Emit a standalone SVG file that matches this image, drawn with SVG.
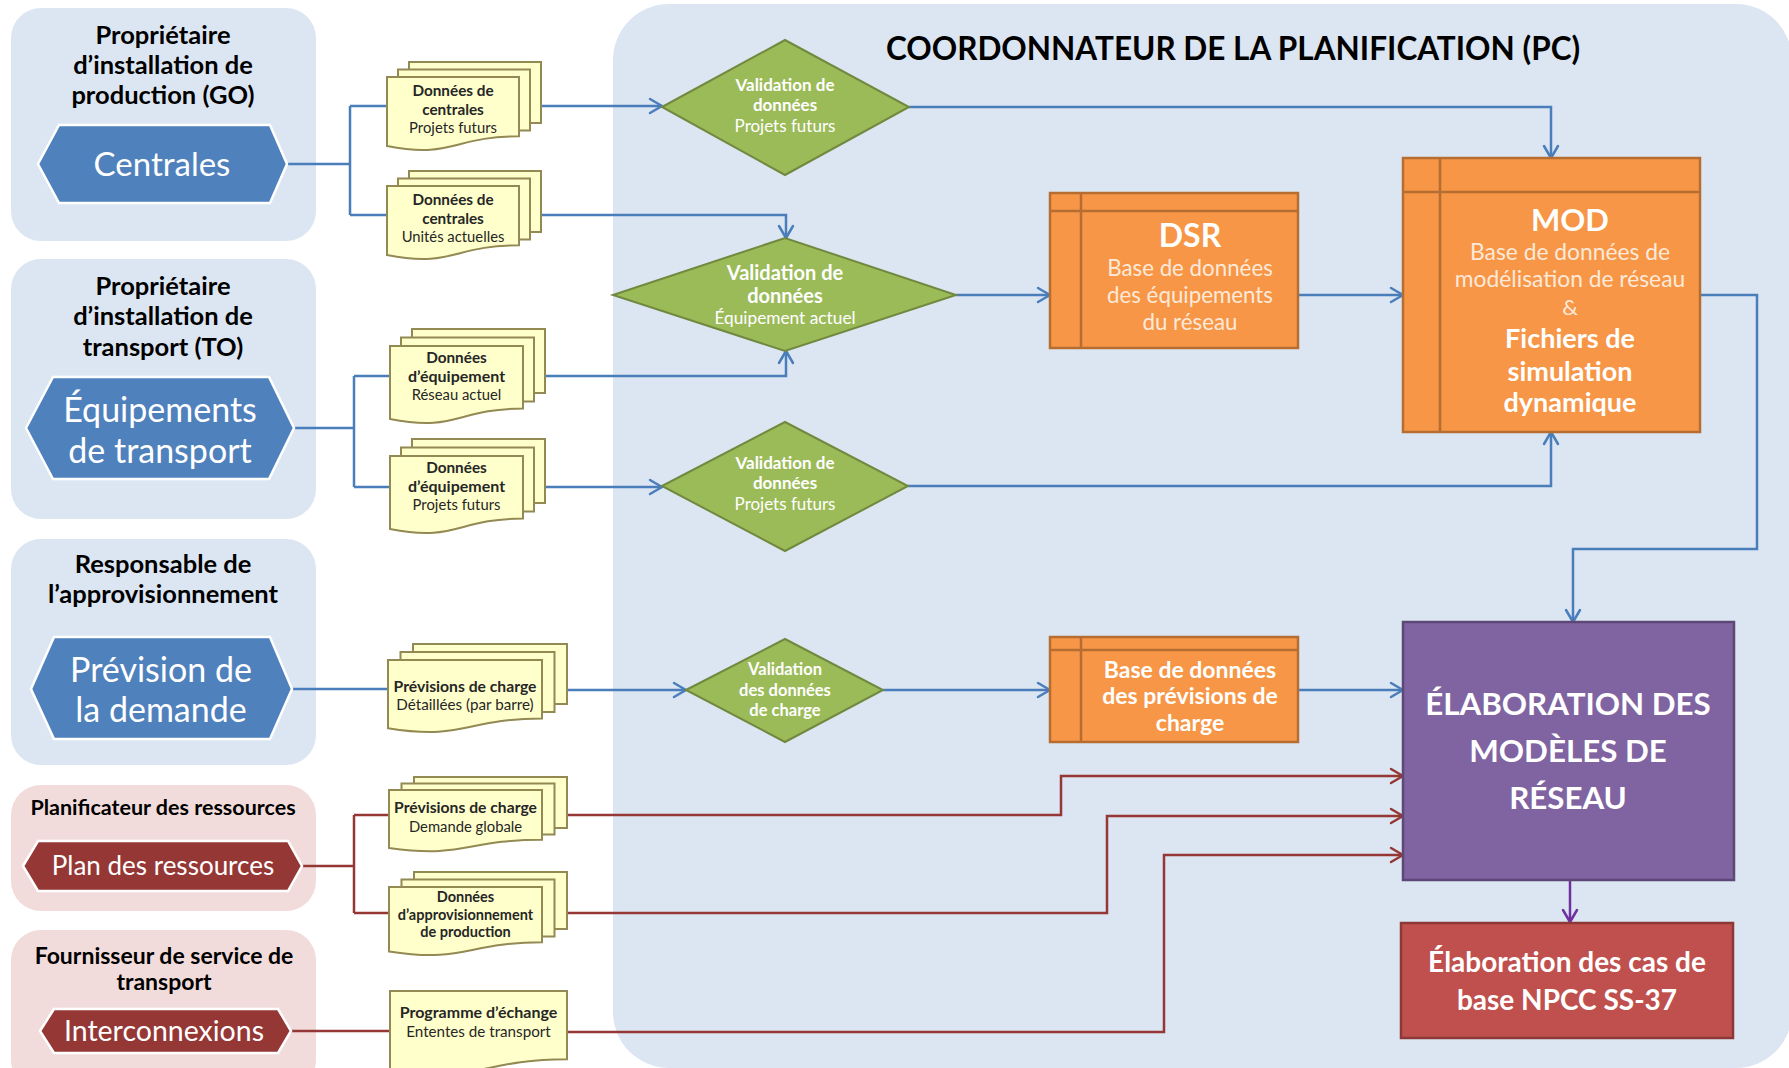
<svg xmlns="http://www.w3.org/2000/svg" width="1789" height="1068" viewBox="0 0 1789 1068">
  <defs>
    <style>
      text { font-family: Lato, "Liberation Sans", sans-serif; text-anchor: middle; }
      .panel-b { fill: #DCE6F2; }
      .panel-r { fill: #F2DCDB; }
      .ptitle { font-weight: bold; font-size: 25.5px; fill: #000; }
      .hex-b { fill: #4F81BD; stroke: #fff; stroke-width: 2.5; }
      .hex-r { fill: #953735; stroke: #fff; stroke-width: 2.5; }
      .hext { fill: #fff; }
      .sheet { fill: #FFFFCC; stroke: #938953; stroke-width: 2; }
      .dtb { font-weight: bold; font-size: 15.3px; fill: #262626; }
      .dtr { font-size: 14.8px; fill: #262626; }
      .dec { fill: #9BBB59; stroke: #71893F; stroke-width: 2; }
      .dect { fill: #fff; font-size: 17px; }
      .db { fill: #F79646; stroke: #B66D31; stroke-width: 2.5; }
      .dbl { fill: none; stroke: #B66D31; stroke-width: 2.5; }
      .dbt { fill: #FDE9D9; }
      .wt { fill: #fff; font-weight: bold; }
      .cb { fill: none; stroke: #4A7EBB; stroke-width: 2.5; }
      .cr { fill: none; stroke: #953735; stroke-width: 2.5; }
      .cp { fill: none; stroke: #7030A0; stroke-width: 2.5; }
    </style>
    <marker id="arrB" markerUnits="userSpaceOnUse" markerWidth="20" markerHeight="20" viewBox="0 0 20 20" refX="16" refY="10" orient="auto">
      <path d="M4,3 L16,10 L4,17" fill="none" stroke="#4A7EBB" stroke-width="2.5" stroke-linejoin="round" stroke-linecap="round"/>
    </marker>
    <marker id="arrR" markerUnits="userSpaceOnUse" markerWidth="20" markerHeight="20" viewBox="0 0 20 20" refX="16" refY="10" orient="auto">
      <path d="M4,3 L16,10 L4,17" fill="none" stroke="#953735" stroke-width="2.5" stroke-linejoin="round" stroke-linecap="round"/>
    </marker>
    <marker id="arrP" markerUnits="userSpaceOnUse" markerWidth="20" markerHeight="20" viewBox="0 0 20 20" refX="16" refY="10" orient="auto">
      <path d="M4,3 L16,10 L4,17" fill="none" stroke="#7030A0" stroke-width="2.5" stroke-linejoin="round" stroke-linecap="round"/>
    </marker>
  </defs>

  <rect width="1789" height="1068" fill="#fff"/>

  <!-- Swimlane backgrounds -->
  <g id="lane-pc">
    <rect class="panel-b" x="613" y="4" width="1179" height="1064" rx="56"/>
    <text x="1233" y="60" style="font-size:31.5px" font-weight="bold" fill="#000">COORDONNATEUR DE LA PLANIFICATION (PC)</text>
  </g>

  <g id="lane-go">
    <rect class="panel-b" x="11" y="8" width="305" height="233" rx="30"/>
    <text class="ptitle" x="163" y="44">Propriétaire</text>
    <text class="ptitle" x="163" y="74">d’installation de</text>
    <text class="ptitle" x="163" y="104">production (GO)</text>
  </g>
  <g id="lane-to">
    <rect class="panel-b" x="11" y="259" width="305" height="260" rx="30"/>
    <text class="ptitle" x="163" y="295">Propriétaire</text>
    <text class="ptitle" x="163" y="325">d’installation de</text>
    <text class="ptitle" x="163" y="356">transport (TO)</text>
  </g>
  <g id="lane-rp">
    <rect class="panel-b" x="11" y="539" width="305" height="226" rx="30"/>
    <text class="ptitle" x="163" y="573">Responsable de</text>
    <text class="ptitle" x="163" y="603">l’approvisionnement</text>
  </g>
  <g id="lane-pr">
    <rect class="panel-r" x="11" y="785" width="305" height="126" rx="30"/>
    <text class="ptitle" x="163" y="815" style="font-size:21.5px">Planificateur des ressources</text>
  </g>
  <g id="lane-fst">
    <rect class="panel-r" x="11" y="930" width="305" height="160" rx="30"/>
    <text class="ptitle" x="164" y="964" style="font-size:23px">Fournisseur de service de</text>
    <text class="ptitle" x="164" y="990" style="font-size:23px">transport</text>
  </g>

  <!-- Connectors -->
  <g id="connectors">
    <path class="cb" d="M287,164 H350 M350,106 V215 M350,106 H387 M350,215 H387"/>
    <path class="cb" d="M294,428 H354 M354,376 V487 M354,376 H390 M354,487 H390"/>
    <path class="cb" d="M292,689 H388"/>
    <path class="cr" d="M302,866 H354 M354,815 V913 M354,815 H389 M354,913 H389"/>
    <path class="cr" d="M291,1031 H390"/>

    <path class="cb" d="M541,106 H662" marker-end="url(#arrB)"/>
    <path class="cb" d="M541,215 H786 V238" marker-end="url(#arrB)"/>
    <path class="cb" d="M545,376 H786 V351" marker-end="url(#arrB)"/>
    <path class="cb" d="M545,487 H662" marker-end="url(#arrB)"/>
    <path class="cb" d="M567,690 H686" marker-end="url(#arrB)"/>

    <path class="cb" d="M909,107 H1551 V158" marker-end="url(#arrB)"/>
    <path class="cb" d="M956,295 H1050" marker-end="url(#arrB)"/>
    <path class="cb" d="M908,486 H1551 V432" marker-end="url(#arrB)"/>
    <path class="cb" d="M883,690 H1050" marker-end="url(#arrB)"/>
    <path class="cb" d="M1298,295 H1403" marker-end="url(#arrB)"/>
    <path class="cb" d="M1298,690 H1403" marker-end="url(#arrB)"/>
    <path class="cb" d="M1700,295 H1757 V549 H1573 V622" marker-end="url(#arrB)"/>

    <path class="cr" d="M567,815 H1061 V776 H1403" marker-end="url(#arrR)"/>
    <path class="cr" d="M567,913 H1107 V816 H1403" marker-end="url(#arrR)"/>
    <path class="cr" d="M567,1032 H1164 V855 H1403" marker-end="url(#arrR)"/>

    <path class="cp" d="M1570,880 V922" marker-end="url(#arrP)"/>
  </g>

  <!-- Source hexagons -->
  <g id="centrales">
    <polygon class="hex-b" points="38,164 59,125 270,125 287,164 270,203 59,203"/>
    <text class="hext" x="162" y="176" style="font-size:33px">Centrales</text>
  </g>
  <g id="equipements-transport">
    <polygon class="hex-b" points="26,428 53,377 269,377 294,428 269,479 53,479"/>
    <text class="hext" x="160" y="422" style="font-size:34px">Équipements</text>
    <text class="hext" x="160" y="463" style="font-size:34px">de transport</text>
  </g>
  <g id="prevision-demande">
    <polygon class="hex-b" points="31,689 54,637 270,637 292,689 270,739 54,739"/>
    <text class="hext" x="161" y="682" style="font-size:34px">Prévision de</text>
    <text class="hext" x="161" y="722" style="font-size:34px">la demande</text>
  </g>
  <g id="plan-ressources">
    <polygon class="hex-r" points="23,866 38,841 288,841 302,866 288,891 38,891"/>
    <text class="hext" x="163" y="875" style="font-size:26px">Plan des ressources</text>
  </g>
  <g id="interconnexions">
    <polygon class="hex-r" points="40,1031 54,1009 278,1009 291,1031 278,1053 54,1053"/>
    <text class="hext" x="164" y="1041" style="font-size:28.5px">Interconnexions</text>
  </g>

  <!-- Data documents -->
  <g id="doc-centrales-futurs">
    <rect class="sheet" x="409" y="62" width="132" height="61"/>
    <rect class="sheet" x="398" y="69.5" width="132" height="61"/>
    <path class="sheet" d="M387,77 H519 V136.3 C453,136.3 453,158.9 387,146.1 Z"/>
    <text class="dtb" x="453" y="96">Données de</text>
    <text class="dtb" x="453" y="115">centrales</text>
    <text class="dtr" x="453" y="133">Projets futurs</text>
  </g>
  <g id="doc-centrales-actuelles">
    <rect class="sheet" x="409" y="171" width="132" height="61"/>
    <rect class="sheet" x="398" y="178.5" width="132" height="61"/>
    <path class="sheet" d="M387,186 H519 V245.3 C453,245.3 453,267.9 387,255.1 Z"/>
    <text class="dtb" x="453" y="205">Données de</text>
    <text class="dtb" x="453" y="224">centrales</text>
    <text class="dtr" x="453" y="242">Unités actuelles</text>
  </g>
  <g id="doc-equipement-actuel">
    <rect class="sheet" x="412" y="329" width="133" height="64"/>
    <rect class="sheet" x="401" y="337.5" width="133" height="64"/>
    <path class="sheet" d="M390,346 H523 V408.6 C456.5,408.6 456.5,432.3 390,418.9 Z"/>
    <text class="dtb" x="456.5" y="363">Données</text>
    <text class="dtb" x="456.5" y="382" style="font-size:16px">d’équipement</text>
    <text class="dtr" x="456.5" y="400">Réseau actuel</text>
  </g>
  <g id="doc-equipement-futurs">
    <rect class="sheet" x="412" y="439" width="133" height="64"/>
    <rect class="sheet" x="401" y="447.5" width="133" height="64"/>
    <path class="sheet" d="M390,456 H523 V518.6 C456.5,518.6 456.5,542.3 390,528.9 Z"/>
    <text class="dtb" x="456.5" y="473">Données</text>
    <text class="dtb" x="456.5" y="492" style="font-size:16px">d’équipement</text>
    <text class="dtr" x="456.5" y="510">Projets futurs</text>
  </g>
  <g id="doc-previsions-detaillees">
    <rect class="sheet" x="413" y="644" width="154" height="60"/>
    <rect class="sheet" x="400.5" y="652" width="154" height="60"/>
    <path class="sheet" d="M388,660 H542 V718.5 C465,718.5 465,740.8 388,728.2 Z"/>
    <text class="dtb" x="465" y="692" style="font-size:15.7px">Prévisions de charge</text>
    <text class="dtr" x="465" y="710" style="font-size:15.2px">Détaillées (par barre)</text>
  </g>
  <g id="doc-previsions-globales">
    <rect class="sheet" x="414" y="777" width="153" height="51"/>
    <rect class="sheet" x="401.5" y="783.5" width="153" height="51"/>
    <path class="sheet" d="M389,790 H542 V839.7 C465.5,839.7 465.5,858.6 389,847.9 Z"/>
    <text class="dtb" x="465.5" y="813" style="font-size:15.7px">Prévisions de charge</text>
    <text class="dtr" x="465.5" y="832">Demande globale</text>
  </g>
  <g id="doc-approvisionnement">
    <rect class="sheet" x="414" y="872" width="153" height="57"/>
    <rect class="sheet" x="401.5" y="879.5" width="153" height="57"/>
    <path class="sheet" d="M389,887 H542 V942.3 C465.5,942.3 465.5,963.4 389,951.4 Z"/>
    <text class="dtb" x="465.5" y="902" style="font-size:14.5px">Données</text>
    <text class="dtb" x="465.5" y="920" style="font-size:14.5px">d’approvisionnement</text>
    <text class="dtb" x="465.5" y="937" style="font-size:14.5px">de production</text>
  </g>
  <g id="doc-programme-echange">
    <path class="sheet" d="M390,991 H567 V1059.2 C478.5,1059.2 478.5,1085.1 390,1070.4 Z"/>
    <text class="dtb" x="478.5" y="1018" style="font-size:16px">Programme d’échange</text>
    <text class="dtr" x="478.5" y="1037" style="font-size:15.2px">Ententes de transport</text>
  </g>

  <!-- Validation steps -->
  <g id="validation-futurs-go">
    <polygon class="dec" points="662,107 785,40 909,107 785,175"/>
    <text class="dect" x="785" y="91" font-weight="bold">Validation de</text>
    <text class="dect" x="785" y="111" font-weight="bold">données</text>
    <text class="dect" x="785" y="132">Projets futurs</text>
  </g>
  <g id="validation-actuel">
    <polygon class="dec" points="613,295 785,238 956,295 785,351"/>
    <text class="dect" x="785" y="280" style="font-size:20px" font-weight="bold">Validation de</text>
    <text class="dect" x="785" y="303" style="font-size:20px" font-weight="bold">données</text>
    <text class="dect" x="785" y="324" style="font-size:17.3px">Équipement actuel</text>
  </g>
  <g id="validation-futurs-to">
    <polygon class="dec" points="662,486 785,422 908,486 785,551"/>
    <text class="dect" x="785" y="469" font-weight="bold">Validation de</text>
    <text class="dect" x="785" y="489" font-weight="bold">données</text>
    <text class="dect" x="785" y="510">Projets futurs</text>
  </g>
  <g id="validation-charge">
    <polygon class="dec" points="686,690 785,639 883,690 785,742"/>
    <text class="dect" x="785" y="675" style="font-size:16.5px" font-weight="bold">Validation</text>
    <text class="dect" x="785" y="696" style="font-size:16.5px" font-weight="bold">des données</text>
    <text class="dect" x="785" y="716" style="font-size:16.5px" font-weight="bold">de charge</text>
  </g>

  <!-- Databases -->
  <g id="dsr">
    <rect class="db" x="1050" y="193" width="248" height="155"/>
    <path class="dbl" d="M1081,193 V348 M1050,211 H1298"/>
    <text class="wt" x="1190" y="247" font-size="32">DSR</text>
    <text class="dbt" x="1190" y="276" font-size="22.3">Base de données</text>
    <text class="dbt" x="1190" y="303" font-size="22.3">des équipements</text>
    <text class="dbt" x="1190" y="330" font-size="22.3">du réseau</text>
  </g>
  <g id="mod">
    <rect class="db" x="1403" y="158" width="297" height="274"/>
    <path class="dbl" d="M1440,158 V432 M1403,192 H1700"/>
    <text class="wt" x="1570" y="231" font-size="31">MOD</text>
    <text class="dbt" x="1570" y="260" font-size="22.8">Base de données de</text>
    <text class="dbt" x="1570" y="287" font-size="22.8">modélisation de réseau</text>
    <text class="dbt" x="1570" y="315" font-size="22">&amp;</text>
    <text class="wt" x="1570" y="348" font-size="27">Fichiers de</text>
    <text class="wt" x="1570" y="381" font-size="27">simulation</text>
    <text class="wt" x="1570" y="412" font-size="27">dynamique</text>
  </g>
  <g id="bd-previsions">
    <rect class="db" x="1050" y="637" width="248" height="105"/>
    <path class="dbl" d="M1081,637 V742 M1050,650 H1298"/>
    <text class="wt" x="1190" y="678" font-size="23">Base de données</text>
    <text class="wt" x="1190" y="704" font-size="23">des prévisions de</text>
    <text class="wt" x="1190" y="731" font-size="23">charge</text>
  </g>

  <!-- Outputs -->
  <g id="elaboration-modeles">
    <rect x="1403" y="622" width="331" height="258" fill="#8064A2" stroke="#5C4776" stroke-width="2.5"/>
    <text class="wt" x="1568" y="715" font-size="31.3">ÉLABORATION DES</text>
    <text class="wt" x="1568" y="762" font-size="31.3">MODÈLES DE</text>
    <text class="wt" x="1568" y="809" font-size="31.3">RÉSEAU</text>
  </g>
  <g id="cas-de-base">
    <rect x="1401" y="923" width="332" height="115" fill="#C0504D" stroke="#8C3836" stroke-width="2.5"/>
    <text class="wt" x="1567" y="972" font-size="28">Élaboration des cas de</text>
    <text class="wt" x="1567" y="1010" font-size="28">base NPCC SS-37</text>
  </g>
</svg>
